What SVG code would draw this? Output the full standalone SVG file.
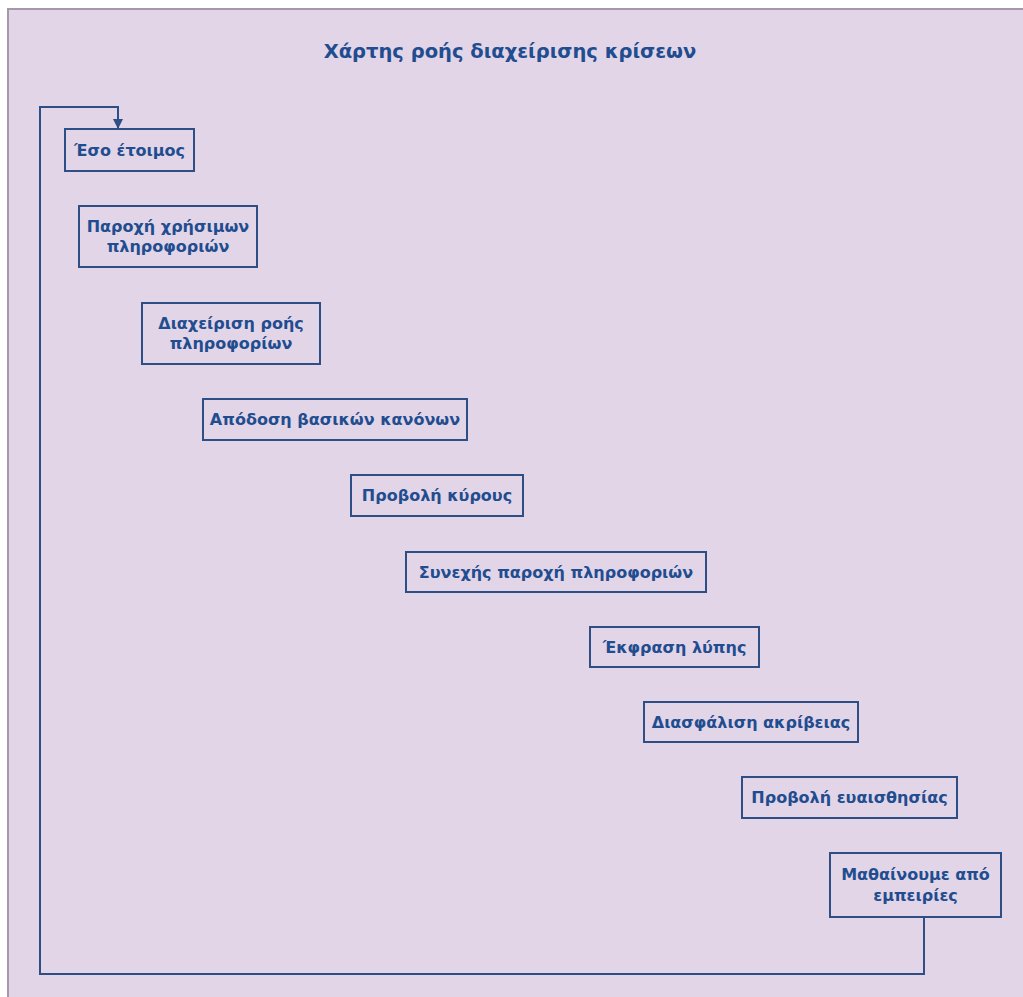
<svg xmlns="http://www.w3.org/2000/svg" width="1023" height="997" viewBox="0 0 1023 997">
<defs>
<style>
.bg{fill:#e3d5e8}
.frame{fill:none;stroke:#a697aa;stroke-width:2}
.box{fill:none;stroke:#2d4f86;stroke-width:2}
.t{font-family:"DejaVu Sans","Liberation Sans",Arial,sans-serif;font-weight:bold;font-size:16px;fill:#1f4d8f;text-anchor:middle}
.title{font-family:"DejaVu Sans","Liberation Sans",Arial,sans-serif;font-weight:bold;font-size:19.5px;fill:#1f4d8f;text-anchor:middle}
.conn{fill:none;stroke:#2d4f86;stroke-width:2}
</style>
<marker id="arr" viewBox="0 0 10 10" refX="9" refY="5" markerWidth="5" markerHeight="5" orient="auto">
<path d="M0,0 L10,5 L0,10 z" fill="#2d4f86"/>
</marker>
</defs>
<rect x="0" y="0" width="1023" height="997" fill="#ffffff"/>
<rect class="bg" x="8" y="9" width="1015" height="988"/>
<path class="frame" d="M8,997 V9 H1023"/>
<text class="title" x="510" y="58">Χάρτης ροής διαχείρισης κρίσεων</text>
<g id="connectors">
<path class="conn" d="M924,917 V974 H40 V107 H118 V128" marker-end="url(#arr)"/>
</g>
<g id="n1"><rect class="box" x="65" y="129" width="129" height="42"/><text class="t" x="129.5" y="156">Έσο έτοιμος</text></g>
<g id="n2"><rect class="box" x="79" y="206" width="178" height="61"/><text class="t" x="168" y="232">Παροχή χρήσιμων</text><text class="t" x="168" y="252">πληροφοριών</text></g>
<g id="n3"><rect class="box" x="142" y="303" width="178" height="61"/><text class="t" x="231" y="329">Διαχείριση ροής</text><text class="t" x="231" y="349">πληροφορίων</text></g>
<g id="n4"><rect class="box" x="203" y="399" width="264" height="41"/><text class="t" x="335" y="425">Απόδοση βασικών κανόνων</text></g>
<g id="n5"><rect class="box" x="351" y="475" width="172" height="41"/><text class="t" x="437" y="501">Προβολή κύρους</text></g>
<g id="n6"><rect class="box" x="406" y="552" width="300" height="40"/><text class="t" x="556" y="578">Συνεχής παροχή πληροφοριών</text></g>
<g id="n7"><rect class="box" x="590" y="627" width="169" height="40"/><text class="t" x="674.5" y="653">Έκφραση λύπης</text></g>
<g id="n8"><rect class="box" x="644" y="702" width="214" height="40"/><text class="t" x="751" y="728">Διασφάλιση ακρίβειας</text></g>
<g id="n9"><rect class="box" x="742" y="777" width="215" height="41"/><text class="t" x="849.5" y="803">Προβολή ευαισθησίας</text></g>
<g id="n10"><rect class="box" x="830" y="853" width="171" height="64"/><text class="t" x="915.5" y="880">Μαθαίνουμε από</text><text class="t" x="915.5" y="901">εμπειρίες</text></g>
</svg>
